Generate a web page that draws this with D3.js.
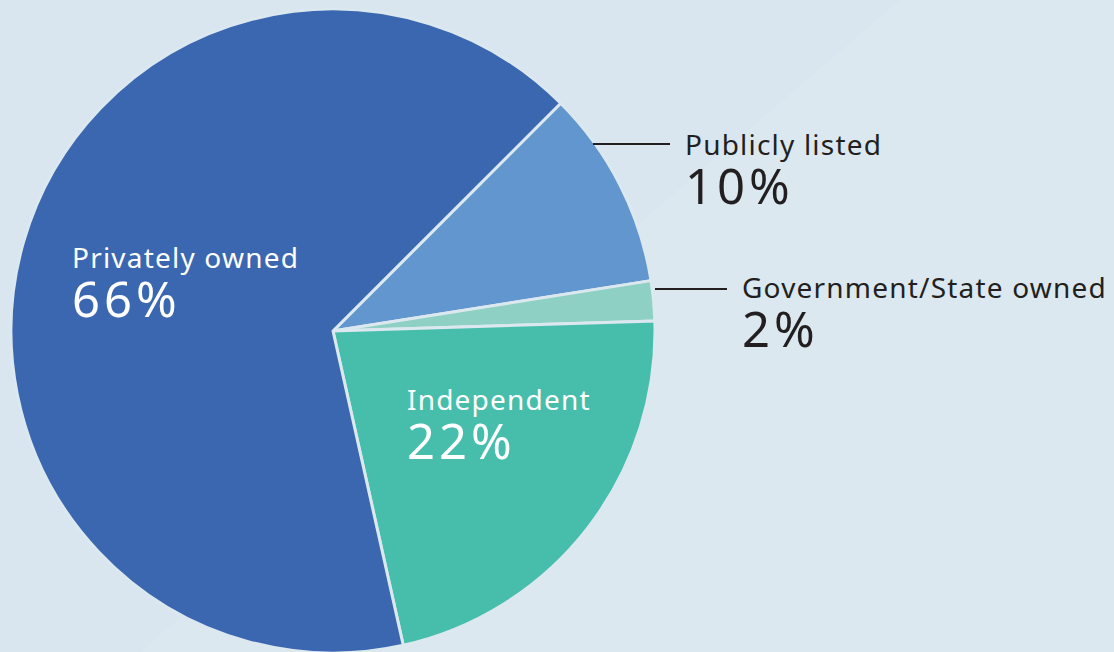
<!DOCTYPE html>
<html>
<head>
<meta charset="utf-8">
<script src="https://cdn.jsdelivr.net/npm/d3@7/dist/d3.min.js"></script>
<style>
  html, body { margin: 0; padding: 0; background: #d9e6ef; }
  svg { display: block; }
  text { font-family: "Noto Sans", "Open Sans", sans-serif; }
</style>
</head>
<body>
<svg id="chart" width="1114" height="652"></svg>
<script>
// Ownership shares, clockwise from the upper-right
const categories = ["Publicly listed", "Government/State owned", "Independent", "Privately owned"];
const shares = [10, 2, 22, 66];
const colors = ["#6296cf", "#8ed1c4", "#47beab", "#3a67b0"];

const width = 1114, height = 652;
const cx = 333, cy = 331, radius = 322;

const svg = d3.select("#chart");

// soft diagonal band in the background
svg.append("rect").attr("width", width).attr("height", height).attr("fill", "#d9e6ef");
svg.append("path")
  .attr("d", d3.line()([[900, 0], [width, 0], [width, height], [140, height]]))
  .attr("fill", "#dbe8f0");

const data = categories.map((c, i) => ({ name: c, value: shares[i], color: colors[i] }));

const pie = d3.pie()
  .sort(null)
  .value(d => d.value)
  .startAngle(Math.PI / 4)
  .endAngle(Math.PI / 4 + 2 * Math.PI);

const arc = d3.arc().innerRadius(0).outerRadius(radius);

const g = svg.append("g").attr("transform", `translate(${cx},${cy})`);

g.selectAll("path.slice")
  .data(pie(data))
  .join("path")
  .attr("class", "slice")
  .attr("d", arc)
  .attr("fill", d => d.data.color)
  .attr("stroke", "#dce8f0")
  .attr("stroke-width", 3)
  .attr("stroke-linejoin", "round");

// leader lines for the two outer labels
const leaders = [
  { i: 0, x1: 593, y1: 144, x2: 670, y2: 144 },
  { i: 1, x1: 655, y1: 289, x2: 727, y2: 289 }
];
svg.selectAll("line.leader")
  .data(leaders)
  .join("line")
  .attr("class", "leader")
  .attr("x1", d => d.x1).attr("y1", d => d.y1)
  .attr("x2", d => d.x2).attr("y2", d => d.y2)
  .attr("stroke", "#231f20")
  .attr("stroke-width", 2);

// label layout: name line with the share underneath, one text block each
const labels = [
  { i: 0, x: 685, y: 155, fill: "#231f20" },
  { i: 1, x: 742, y: 298, fill: "#231f20" },
  { i: 2, x: 407, y: 410, fill: "#ffffff" },
  { i: 3, x: 72, y: 268, fill: "#ffffff" }
];

const txt = svg.selectAll("text.label")
  .data(labels)
  .join("text")
  .attr("class", "label")
  .attr("x", d => d.x)
  .attr("y", d => d.y)
  .attr("fill", d => d.fill);

txt.append("tspan")
  .attr("x", d => d.x)
  .attr("font-size", 28)
  .attr("letter-spacing", 1.2)
  .text(d => categories[d.i]);

txt.append("tspan")
  .attr("x", d => d.x)
  .attr("dy", 49)
  .attr("font-size", 49)
  .attr("letter-spacing", 4)
  .text(d => shares[d.i] + "%");
</script>
</body>
</html>
